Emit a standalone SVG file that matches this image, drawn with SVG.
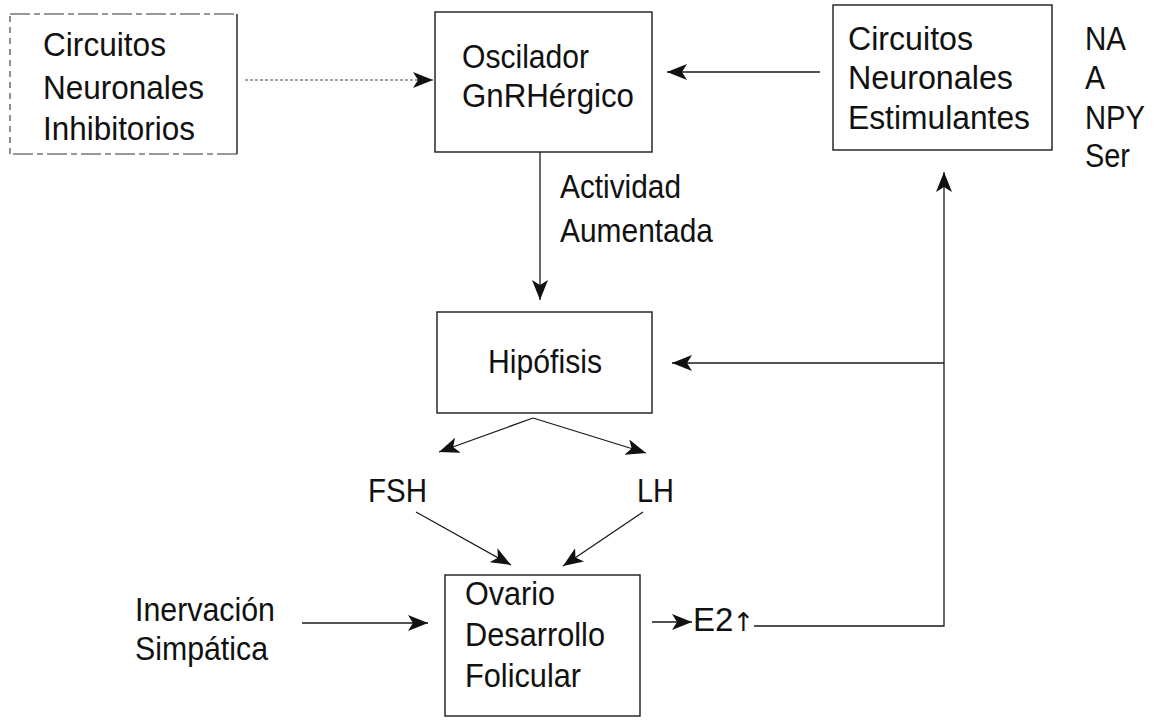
<svg xmlns="http://www.w3.org/2000/svg" width="1164" height="721" viewBox="0 0 1164 721">
<style>
  .box { fill: none; stroke: #1a1a1a; stroke-width: 1.4; }
  .dbox { fill: none; stroke: #333; stroke-width: 1.2; stroke-dasharray: 20 4 6 4; }
  .dside { fill: none; stroke: #444; stroke-width: 1.2; stroke-dasharray: 6 5; }
  .t { font-family: "Liberation Sans", Arial, sans-serif; font-size: 33px; fill: #111; }
  .arr { font-family: "DejaVu Sans", sans-serif; font-size: 26px; fill: #111; }
  .c { fill: none; stroke: #1a1a1a; stroke-width: 1.3; }
  .dot { fill: none; stroke: #444; stroke-width: 1.1; stroke-dasharray: 3 2; }
</style>
<defs>
  <marker id="ah" markerUnits="userSpaceOnUse" viewBox="0 0 20 16" refX="20" refY="8" markerWidth="20" markerHeight="16" orient="auto">
    <path d="M20,8 L0,0 L5,8 L0,16 z" fill="#111"/>
  </marker>
</defs>
<rect width="1164" height="721" fill="#ffffff"/>

<g id="inhibitorios">
  <path class="dbox" d="M237,154 L10,154"/>
  <path class="dbox" d="M10,14 L237,14"/>
  <path class="dside" d="M10,154 L10,14"/>
  <line class="box" x1="237" y1="14" x2="237" y2="154"/>
  <text class="t" x="43" y="56" textLength="123" lengthAdjust="spacingAndGlyphs">Circuitos</text>
  <text class="t" x="43" y="99" textLength="161" lengthAdjust="spacingAndGlyphs">Neuronales</text>
  <text class="t" x="43" y="140" textLength="152" lengthAdjust="spacingAndGlyphs">Inhibitorios</text>
</g>

<g id="oscilador">
  <rect class="box" x="435" y="12" width="217" height="140"/>
  <text class="t" x="462" y="68" textLength="127" lengthAdjust="spacingAndGlyphs">Oscilador</text>
  <text class="t" x="462" y="107" textLength="172" lengthAdjust="spacingAndGlyphs">GnRHérgico</text>
</g>

<g id="estimulantes">
  <rect class="box" x="833" y="5" width="219" height="145"/>
  <text class="t" x="848" y="50" textLength="125" lengthAdjust="spacingAndGlyphs">Circuitos</text>
  <text class="t" x="848" y="89" textLength="165" lengthAdjust="spacingAndGlyphs">Neuronales</text>
  <text class="t" x="848" y="129" textLength="182" lengthAdjust="spacingAndGlyphs">Estimulantes</text>
</g>

<g id="neurotransmisores">
  <text class="t" x="1085" y="50" textLength="41" lengthAdjust="spacingAndGlyphs">NA</text>
  <text class="t" x="1085" y="89" textLength="20" lengthAdjust="spacingAndGlyphs">A</text>
  <text class="t" x="1085" y="129" textLength="60" lengthAdjust="spacingAndGlyphs">NPY</text>
  <text class="t" x="1085" y="167" textLength="45" lengthAdjust="spacingAndGlyphs">Ser</text>
</g>

<g id="actividad">
  <text class="t" x="560" y="198" textLength="121" lengthAdjust="spacingAndGlyphs">Actividad</text>
  <text class="t" x="560" y="242" textLength="153" lengthAdjust="spacingAndGlyphs">Aumentada</text>
</g>

<g id="hipofisis">
  <rect class="box" x="437" y="312" width="215" height="101"/>
  <text class="t" x="488" y="373" textLength="114" lengthAdjust="spacingAndGlyphs">Hipófisis</text>
</g>

<g id="fsh">
  <text class="t" x="368" y="502" textLength="59" lengthAdjust="spacingAndGlyphs">FSH</text>
</g>
<g id="lh">
  <text class="t" x="637" y="502" textLength="37" lengthAdjust="spacingAndGlyphs">LH</text>
</g>

<g id="inervacion">
  <text class="t" x="135" y="621" textLength="140" lengthAdjust="spacingAndGlyphs">Inervación</text>
  <text class="t" x="135" y="660" textLength="133" lengthAdjust="spacingAndGlyphs">Simpática</text>
</g>

<g id="ovario">
  <rect class="box" x="445" y="575" width="195" height="141"/>
  <text class="t" x="465" y="605" textLength="90" lengthAdjust="spacingAndGlyphs">Ovario</text>
  <text class="t" x="465" y="646" textLength="140" lengthAdjust="spacingAndGlyphs">Desarrollo</text>
  <text class="t" x="465" y="687" textLength="116" lengthAdjust="spacingAndGlyphs">Folicular</text>
</g>

<g id="e2">
  <text class="t" x="693" y="631">E2<tspan class="arr" dx="-1">↑</tspan></text>
</g>

<g id="connectors">
  <line class="dot" x1="245" y1="80" x2="433" y2="80" marker-end="url(#ah)"/>
  <line class="c" x1="820" y1="72" x2="667" y2="72" marker-end="url(#ah)"/>
  <line class="c" x1="540" y1="152" x2="540" y2="300" marker-end="url(#ah)"/>
  <line class="c" x1="533" y1="418" x2="439" y2="452" marker-end="url(#ah)"/>
  <line class="c" x1="533" y1="418" x2="646" y2="453" marker-end="url(#ah)"/>
  <line class="c" x1="416" y1="512" x2="511" y2="565" marker-end="url(#ah)"/>
  <line class="c" x1="643" y1="512" x2="563" y2="566" marker-end="url(#ah)"/>
  <line class="c" x1="302" y1="623" x2="428" y2="623" marker-end="url(#ah)"/>
  <line class="c" x1="652" y1="622" x2="692" y2="622" marker-end="url(#ah)"/>
  <polyline class="c" points="754,626 944,626 944,172" marker-end="url(#ah)"/>
  <line class="c" x1="944" y1="363" x2="672" y2="363" marker-end="url(#ah)"/>
</g>
</svg>
